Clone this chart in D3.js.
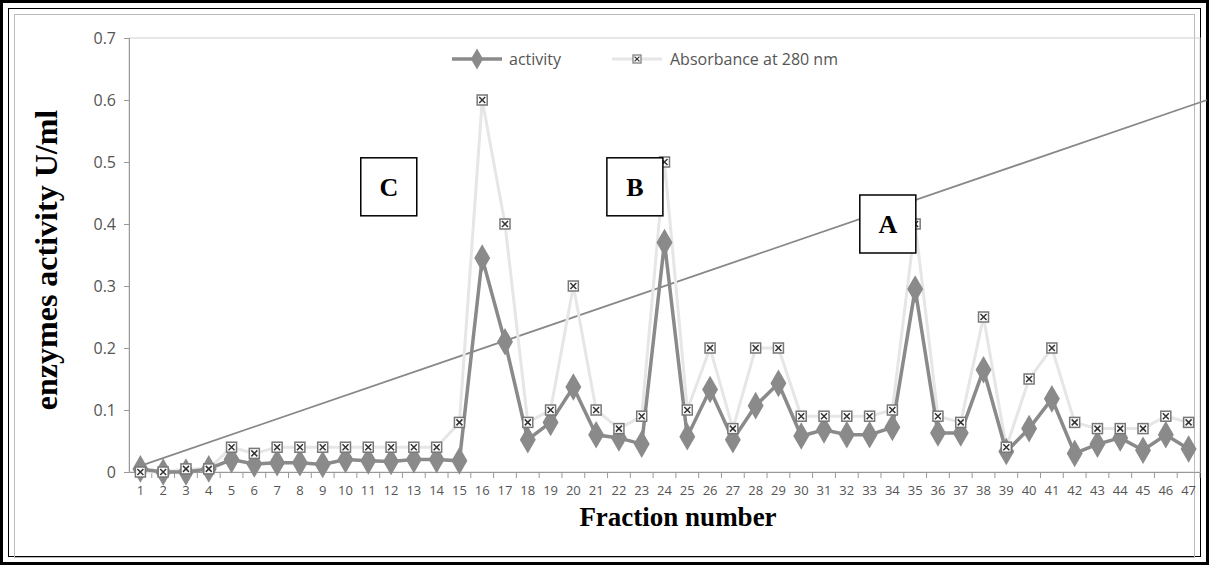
<!DOCTYPE html>
<html><head><meta charset="utf-8">
<script src="https://cdn.jsdelivr.net/npm/d3@7"></script>
<style>body{margin:0;background:#fff}</style></head>
<body><script>
const fractions = d3.range(1, 48);
const activity = [0.005,0,0,0.005,0.02,0.013,0.015,0.015,0.012,0.02,0.018,0.017,0.02,0.02,0.018,0.345,0.21,0.052,0.08,0.137,0.06,0.055,0.045,0.37,0.057,0.133,0.052,0.107,0.143,0.058,0.068,0.06,0.06,0.072,0.295,0.063,0.063,0.165,0.033,0.07,0.118,0.03,0.045,0.055,0.035,0.06,0.037];
const absorbance = [0,0,0.005,0.005,0.04,0.03,0.04,0.04,0.04,0.04,0.04,0.04,0.04,0.04,0.08,0.6,0.4,0.08,0.1,0.3,0.1,0.07,0.09,0.5,0.1,0.2,0.07,0.2,0.2,0.09,0.09,0.09,0.09,0.1,0.4,0.09,0.08,0.25,0.04,0.15,0.2,0.08,0.07,0.07,0.07,0.09,0.08];
const gradient = [{f: 1, v: 0.01}, {f: 47.8, v: 0.6}];
const yTicks = [0,0.1,0.2,0.3,0.4,0.5,0.6,0.7];
const boxes = [{t:'C', f:11.9, v:0.46}, {t:'B', f:22.7, v:0.46}, {t:'A', f:33.8, v:0.4}];

const W = 1209, H = 565;
const svg = d3.select('body').append('svg').attr('width', W).attr('height', H);

// frames
svg.append('rect').attr('x',1.5).attr('y',1.5).attr('width',W-3).attr('height',H-3).attr('fill','none').attr('stroke','#000').attr('stroke-width',3);
svg.append('rect').attr('x',8.5).attr('y',8.5).attr('width',W-17).attr('height',H-17).attr('fill','none').attr('stroke','#000').attr('stroke-width',1);
svg.append('rect').attr('x',14.5).attr('y',14.5).attr('width',W-29).attr('height',H-22).attr('fill','none').attr('stroke','#bbb').attr('stroke-width',1);

const mLeft = 129, mRight = 1200, mTop = 38, mBottom = 472;
const x = d3.scaleBand().domain(fractions).range([mLeft, mRight]);
const xc = f => x(f) + x.bandwidth() / 2;
const xl = d3.scaleLinear().domain([1, 47]).range([xc(1), xc(47)]);
const y = d3.scaleLinear().domain([0, 0.7]).range([mBottom, mTop]);

// plot border
svg.append('rect').attr('x',mLeft).attr('y',mTop).attr('width',mRight-mLeft).attr('height',mBottom-mTop).attr('fill','none').attr('stroke','#d0d0d0');

const yAxis = svg.append('g').attr('transform',`translate(${mLeft},0)`)
  .call(d3.axisLeft(y).tickValues(yTicks).tickSize(5).tickPadding(8).tickFormat(d => d === 0 ? '0' : d3.format('.1f')(d)));
const xAxis = svg.append('g').attr('transform',`translate(0,${mBottom})`)
  .call(d3.axisBottom(x).tickSize(0).tickPadding(14));
xAxis.selectAll('.tick').append('line').attr('x1', x.bandwidth()/2).attr('x2', x.bandwidth()/2).attr('y2', 6).attr('stroke','#999');
[yAxis, xAxis].forEach(a => {
  a.select('.domain').attr('stroke','#999');
  a.selectAll('line').attr('stroke','#999');
  a.selectAll('text').attr('fill','#555').attr('font-family','Open Sans, sans-serif').attr('font-size', 13);
});
yAxis.selectAll('text').attr('font-size', 16);

// gradient line
svg.append('line').attr('x1', xl(gradient[0].f)).attr('y1', y(gradient[0].v))
  .attr('x2', xl(gradient[1].f)).attr('y2', y(gradient[1].v)).attr('stroke','#888').attr('stroke-width',1.8);

const line = d3.line().x((d,i) => xc(fractions[i])).y(d => y(d));

// absorbance
svg.append('path').datum(absorbance).attr('d', line).attr('fill','none').attr('stroke','#e6e6e6').attr('stroke-width',3);
// activity
svg.append('path').datum(activity).attr('d', line).attr('fill','none').attr('stroke','#8a8a8a').attr('stroke-width',3.5);
svg.selectAll('.dia').data(activity).enter().append('path')
  .attr('d', d3.symbol(d3.symbolDiamond, 220)())
  .attr('transform', (d,i) => `translate(${xc(fractions[i])},${y(d)})`).attr('fill','#8a8a8a');

function sq(g) {
  g.append('rect').attr('x',-5).attr('y',-5).attr('width',10).attr('height',10).attr('fill','#fff').attr('stroke','#777').attr('stroke-width',1.5);
  g.append('path').attr('d','M-3,-3L3,3M3,-3L-3,3').attr('stroke','#333').attr('stroke-width',1.5);
}
svg.selectAll('.sq').data(absorbance).enter().append('g')
  .attr('transform', (d,i) => `translate(${xc(fractions[i])},${y(d)})`).each(function(){ sq(d3.select(this)); });

// legend
const lg = svg.append('g').attr('font-family','Open Sans, sans-serif').attr('font-size',16).attr('fill','#555');
lg.append('line').attr('x1',452).attr('x2',502).attr('y1',59).attr('y2',59).attr('stroke','#8a8a8a').attr('stroke-width',3.5);
lg.append('path').attr('d', d3.symbol(d3.symbolDiamond, 130)()).attr('transform','translate(477,59)').attr('fill','#8a8a8a');
lg.append('text').attr('x',509).attr('y',65).text('activity');
lg.append('line').attr('x1',612).attr('x2',662).attr('y1',59).attr('y2',59).attr('stroke','#e6e6e6').attr('stroke-width',3);
sq(lg.append('g').attr('transform','translate(637,59) scale(0.8)'));
lg.append('text').attr('x',670).attr('y',65).text('Absorbance at 280 nm');

// boxes
boxes.forEach(b => {
  const g = svg.append('g').attr('transform', `translate(${xl(b.f)},${y(b.v)})`);
  g.append('rect').attr('x',-28).attr('y',-29).attr('width',56).attr('height',58).attr('fill','#fff').attr('stroke','#000').attr('stroke-width',1.5);
  g.append('text').attr('text-anchor','middle').attr('y',9).attr('font-family','Liberation Serif, serif').attr('font-weight','bold').attr('font-size',26).text(b.t);
});

// axis titles
svg.append('text').attr('x',678).attr('y',526).attr('text-anchor','middle').attr('font-family','Liberation Serif, serif').attr('font-weight','bold').attr('font-size',27).text('Fraction number');
svg.append('text').attr('transform',`translate(57,${(mTop+mBottom)/2+5}) rotate(-90)`).attr('text-anchor','middle').attr('font-family','Liberation Serif, serif').attr('font-weight','bold').attr('font-size',32).text('enzymes activity U/ml');
</script></body></html>
